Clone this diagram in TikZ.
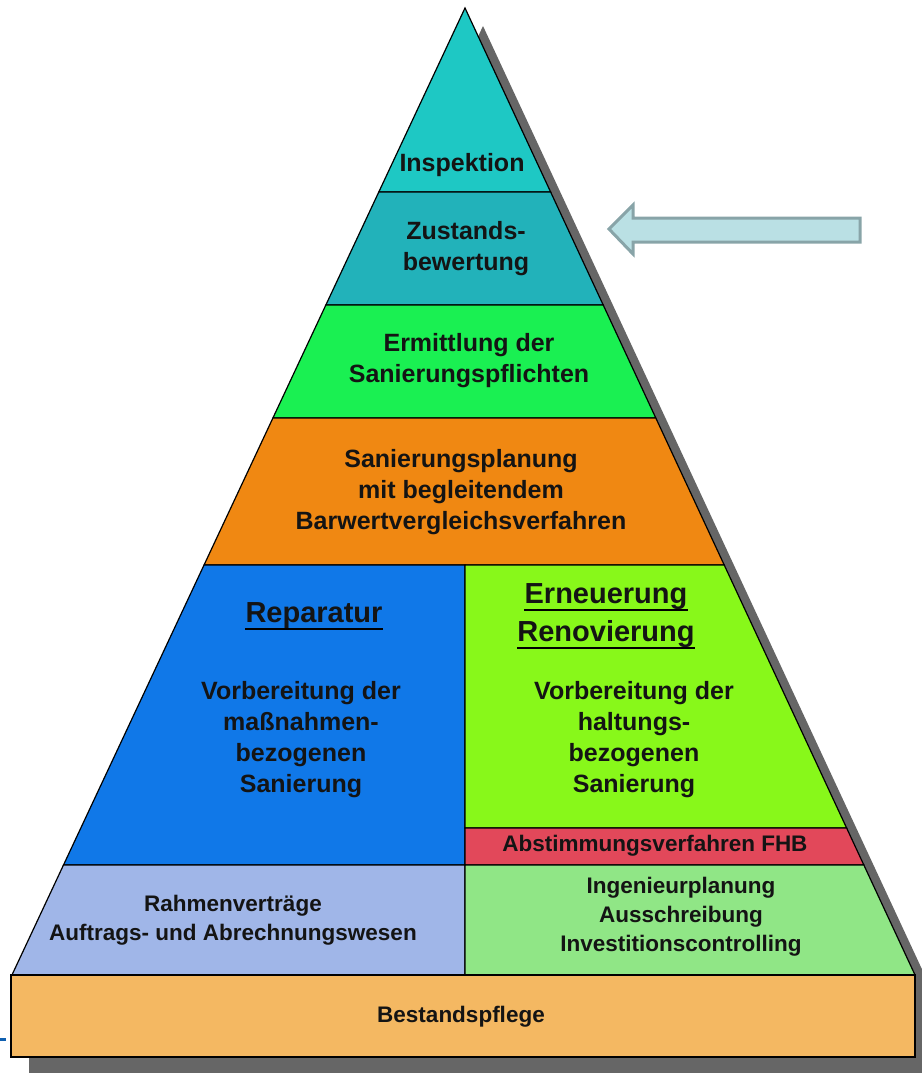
\documentclass[tikz,border=0pt]{standalone}
\usepackage{fontspec}
\setmainfont{Liberation Sans}
\usepackage{tikz}
\usetikzlibrary{calc}

\definecolor{cInsp}{RGB}{30,200,196}
\definecolor{cZust}{RGB}{34,178,186}
\definecolor{cErmi}{RGB}{26,240,82}
\definecolor{cPlan}{RGB}{240,136,18}
\definecolor{cRep}{RGB}{16,120,232}
\definecolor{cErn}{RGB}{136,248,26}
\definecolor{cAbst}{RGB}{226,72,90}
\definecolor{cRahm}{RGB}{160,182,232}
\definecolor{cIng}{RGB}{144,230,134}
\definecolor{cBest}{RGB}{244,184,98}
\definecolor{cShadow}{RGB}{102,102,102}
\definecolor{arrowFill}{RGB}{186,224,228}
\definecolor{arrowLine}{RGB}{136,164,168}
\definecolor{tickBlue}{RGB}{16,96,176}

% x of the left / right pyramid side at height #1
\newcommand{\lx}[1]{{465-0.4685*(#1-8)}}
\newcommand{\rx}[1]{{465+0.4654*(#1-8)}}
\newcommand{\midX}{465}
\newcommand{\baseY}{975}
\newcommand{\footY}{1057}

\tikzstyle{band}=[draw=black, line width=1.2pt, line join=miter]
\tikzstyle{lbl}=[align=center, inner sep=0pt, text=black!92, font=\bfseries\fontsize{25}{31}\selectfont]
\tikzstyle{small}=[align=center, inner sep=0pt, text=black!92, font=\bfseries\fontsize{22.5}{29}\selectfont]
\tikzstyle{head}=[inner sep=0pt, anchor=base, text=black!92, font=\bfseries\fontsize{29}{36}\selectfont]
\tikzstyle{uline}=[line width=2.6pt]
\tikzstyle{dropshadow}=[fill=cShadow]
\tikzstyle{pointer}=[fill=arrowFill, draw=arrowLine, line width=3pt]

\begin{document}
\begin{tikzpicture}[x=1pt, y=-1pt]
\useasboundingbox (0,0) rectangle (921,1073);

% shadow behind pyramid and foot
\begin{scope}[shift={(18,18)}]
\fill[dropshadow] (465,8) -- (\rx{\baseY},\baseY) -- (\lx{\baseY},\baseY) -- cycle;
\fill[dropshadow] (11,\baseY) rectangle (915,\footY);
\end{scope}

% the levels, top down
\filldraw[band, fill=cInsp] (465,8) -- (\rx{192},192) -- (\lx{192},192) -- cycle;
\filldraw[band, fill=cZust] (\lx{192},192) -- (\rx{192},192) -- (\rx{305},305) -- (\lx{305},305) -- cycle;
\filldraw[band, fill=cErmi] (\lx{305},305) -- (\rx{305},305) -- (\rx{418},418) -- (\lx{418},418) -- cycle;
\filldraw[band, fill=cPlan] (\lx{418},418) -- (\rx{418},418) -- (\rx{565},565) -- (\lx{565},565) -- cycle;
\filldraw[band, fill=cRep] (\lx{565},565) -- (\midX,565) -- (\midX,865) -- (\lx{865},865) -- cycle;
\filldraw[band, fill=cErn] (\midX,565) -- (\rx{565},565) -- (\rx{828},828) -- (\midX,828) -- cycle;
\filldraw[band, fill=cAbst] (\midX,828) -- (\rx{828},828) -- (\rx{865},865) -- (\midX,865) -- cycle;
\filldraw[band, fill=cRahm] (\lx{865},865) -- (\midX,865) -- (\midX,\baseY) -- (\lx{\baseY},\baseY) -- cycle;
\filldraw[band, fill=cIng] (\midX,865) -- (\rx{865},865) -- (\rx{\baseY},\baseY) -- (\midX,\baseY) -- cycle;
\filldraw[band, fill=cBest] (11,\baseY) rectangle (915,\footY);

% labels
\node[lbl] (insp) at (462,165) {Inspektion};
\node[lbl] (zust) at (466,249) {Zustands-\\bewertung};
\node[lbl] (ermi) at (469,361) {Ermittlung der\\Sanierungspflichten};
\node[lbl] (plan) at (461,492) {Sanierungsplanung\\mit begleitendem\\Barwertvergleichsverfahren};

\node[head] (rep) at (314,622) {Reparatur};
\draw[uline] ([yshift=-7pt]rep.base west) -- ([yshift=-7pt]rep.base east);
\node[lbl] (repText) at (301,740) {Vorbereitung der\\maßnahmen-\\bezogenen\\Sanierung};

\node[head] (ern) at (606,603) {Erneuerung};
\draw[uline] ([yshift=-7pt]ern.base west) -- ([yshift=-7pt]ern.base east);
\node[head] (renov) at (606,641) {Renovierung};
\draw[uline] ([yshift=-7pt]renov.base west) -- ([yshift=-7pt]renov.base east);
\node[lbl] (ernText) at (634,740) {Vorbereitung der\\haltungs-\\bezogenen\\Sanierung};

\node[small] (abst) at (655,846) {Abstimmungsverfahren FHB};
\node[small] (rahm) at (233,920) {Rahmenverträge\\Auftrags- und Abrechnungswesen};
\node[small] (ing) at (681,917) {Ingenieurplanung\\Ausschreibung\\Investitionscontrolling};
\node[small] (best) at (461,1017) {Bestandspflege};

% pointer to the Zustands level
\filldraw[pointer] (609,229) -- (633,205) -- (633,218) -- (860,218) -- (860,242)
  -- (633,242) -- (633,254) -- cycle;

\draw[tickBlue, line width=3pt] (0,1039) -- (6,1039);
\end{tikzpicture}
\end{document}
